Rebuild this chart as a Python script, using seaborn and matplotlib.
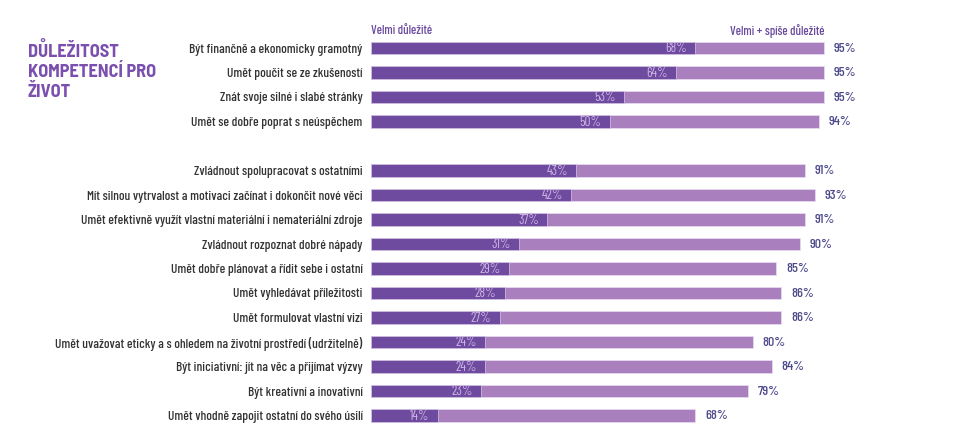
import matplotlib
matplotlib.use("Agg")
import matplotlib.pyplot as plt
from matplotlib import font_manager
import seaborn as sns
import pandas as pd

sns.set_theme(style="white")

installed = {f.name for f in font_manager.fontManager.ttflist}
FONT = next((f for f in ["Barlow Condensed", "Barlow Semi Condensed", "Roboto"]
             if f in installed), "DejaVu Sans")
TITLE_FONT = next((f for f in ["Barlow Semi Condensed", "Barlow", "Roboto"]
                   if f in installed), "DejaVu Sans")
plt.rcParams["font.family"] = [FONT, "DejaVu Sans"]
plt.rcParams["font.weight"] = 500

competences = [
    "Být finančně a ekonomicky gramotný",
    "Umět poučit se ze zkušeností",
    "Znát svoje silné i slabé stránky",
    "Umět se dobře poprat s neúspěchem",
    "Zvládnout spolupracovat s ostatními",
    "Mít silnou vytrvalost a motivaci začínat i dokončit nové věci",
    "Umět efektivně využít vlastní materiální i nemateriální zdroje",
    "Zvládnout rozpoznat dobré nápady",
    "Umět dobře plánovat a řídit sebe i ostatní",
    "Umět vyhledávat příležitosti",
    "Umět formulovat vlastní vizi",
    "Umět uvažovat eticky a s ohledem na životní prostředí (udržitelně)",
    "Být iniciativní: jít na věc a přijímat výzvy",
    "Být kreativní a inovativní",
    "Umět vhodně zapojit ostatní do svého úsilí",
]
very_important = [68, 64, 53, 50, 43, 42, 37, 31, 29, 28, 27, 24, 24, 23, 14]
very_plus_rather = [95, 95, 95, 94, 91, 93, 91, 90, 85, 86, 86, 80, 84, 79, 68]
group_size_top = 4

DARK = "#6f4b9f"
LIGHT = "#a97fbe"
VALUE_COLOR = "#4d4a8c"
INNER_COLOR = "#cdb6e6"
LABEL_COLOR = "#333333"
HEADER_COLOR = "#6a4a9e"
TITLE_COLOR = "#7a4fae"

# slot positions with a blank row between the two groups
pos = [i + (1 if i >= group_size_top else 0) for i in range(len(competences))]
df = pd.DataFrame({"name": competences, "pos": pos,
                   "very": very_important, "total": very_plus_rather})

W, H = 956, 436
fig = plt.figure(figsize=(W / 100, H / 100), dpi=100)
ax = fig.add_axes([371 / W, 8.25 / H, 477 / W, 392 / H])

# size the category labels so the longest one spans about 305 px
renderer = fig.canvas.get_renderer()
probe = fig.text(0, 0, max(competences, key=len), fontsize=10)
label_size = 10 * 305 / probe.get_window_extent(renderer).width
probe.remove()
label_size = min(label_size, 11.5)

sns.barplot(data=df, x="total", y="pos", orient="h", native_scale=True,
            color=LIGHT, saturation=1, width=0.52, ax=ax,
            edgecolor="#e6d9ef", linewidth=0.6)
sns.barplot(data=df, x="very", y="pos", orient="h", native_scale=True,
            color=DARK, saturation=1, width=0.52, ax=ax,
            edgecolor="#d9cbe8", linewidth=0.5)

ax.set_xlim(0, 100)
ax.set_ylim(15.5, -0.5)
ax.set_xlabel("")
ax.set_ylabel("")
ax.set_xticks([])
ax.set_yticks(pos)
ax.set_yticklabels(competences, fontsize=label_size, color=LABEL_COLOR)
ax.tick_params(axis="y", length=0, pad=6)
for s in ax.spines.values():
    s.set_visible(False)

for p, v, t in zip(pos, very_important, very_plus_rather):
    ax.annotate(f"{v}%", (v, p), xytext=(-6, -0.5), textcoords="offset points",
                ha="right", va="center", fontsize=label_size, color=INNER_COLOR,
                fontweight=400)
    ax.annotate(f"{t}%", (t, p), xytext=(7, -0.5), textcoords="offset points",
                ha="left", va="center", fontsize=label_size + 0.5, color=VALUE_COLOR)

# column headers
ax.annotate("Velmi důležité", (0, -0.5), xytext=(0, 3.5), textcoords="offset points",
            ha="left", va="center", fontsize=label_size - 0.5, color=HEADER_COLOR)
ax.annotate("Velmi + spíše důležité", (95, -0.5), xytext=(0, 3.5), textcoords="offset points",
            ha="right", va="center", fontsize=label_size - 0.5, color=HEADER_COLOR)

# title block
fig.text(28 / W, 1 - 42 / H, "DŮLEŽITOST\nKOMPETENCÍ PRO\nŽIVOT", ha="left", va="top",
         fontsize=13.2, fontweight="bold", family=[TITLE_FONT, "DejaVu Sans"],
         color=TITLE_COLOR, linespacing=1.22)

fig.savefig("out.png", dpi=100, facecolor="white")
